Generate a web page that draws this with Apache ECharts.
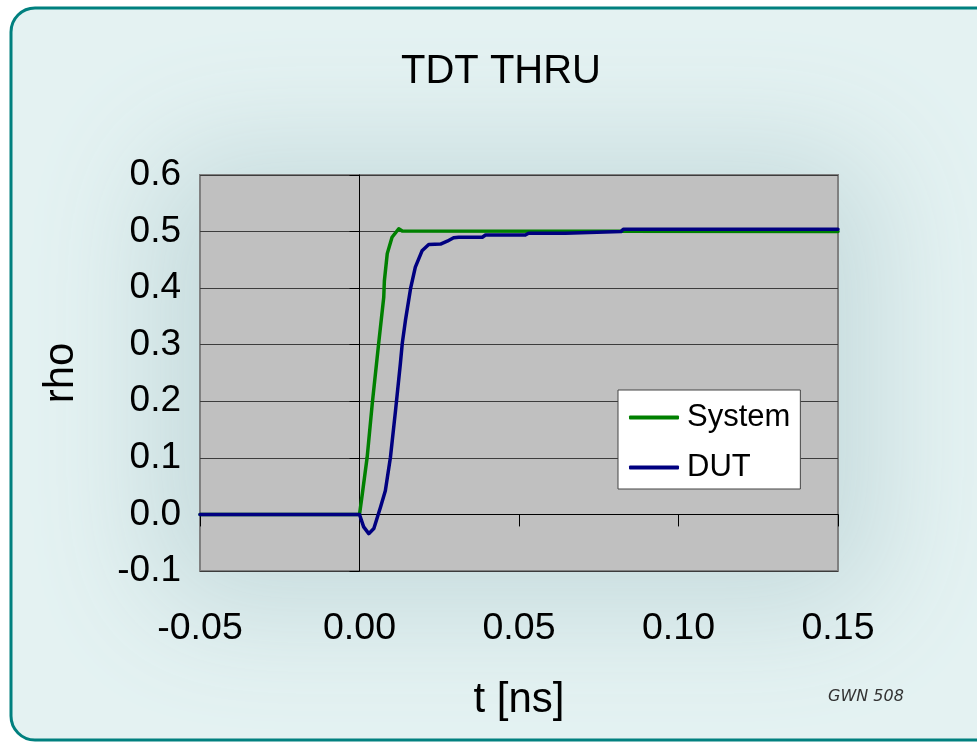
<!DOCTYPE html>
<html>
<head>
<meta charset="utf-8">
<script src="https://cdn.jsdelivr.net/npm/echarts@6/dist/echarts.min.js"></script>
<style>html,body{margin:0;padding:0;background:#fff;}#c{width:977px;height:742px;}</style>
</head>
<body>
<div id="c"></div>
<script>
// Data
const chartTitle = 'TDT THRU';
const xName = 't [ns]';
const yName = 'rho';
const seriesNames = ['System', 'DUT'];
const xTicks = [-0.05, 0.00, 0.05, 0.10, 0.15];
const yTicks = [-0.1, 0.0, 0.1, 0.2, 0.3, 0.4, 0.5, 0.6];
const sysT   = [-0.05, 0, 0.0009, 0.0024, 0.0040, 0.0060, 0.0076, 0.0078, 0.0087, 0.0102, 0.0123, 0.0134, 0.15];
const sysRho = [0, 0, 0.037, 0.101, 0.196, 0.302, 0.384, 0.413, 0.461, 0.490, 0.505, 0.501, 0.500];
const dutT   = [-0.05, 0, 0.0013, 0.0029, 0.0045, 0.0066, 0.0081, 0.0097, 0.0113, 0.0128, 0.0134, 0.0144, 0.0160, 0.0175, 0.0196, 0.0217, 0.0254, 0.0275, 0.0295, 0.0311, 0.0385, 0.0395, 0.052, 0.053, 0.0645, 0.065, 0.082, 0.0827, 0.15];
const dutRho = [0, 0, -0.022, -0.034, -0.025, 0.013, 0.042, 0.101, 0.184, 0.266, 0.302, 0.343, 0.399, 0.437, 0.466, 0.477, 0.478, 0.483, 0.489, 0.490, 0.490, 0.494, 0.494, 0.497, 0.497, 0.500, 0.500, 0.504, 0.504];
const stamp = 'GWN 508';

const FONT = '"Liberation Sans", Arial, sans-serif';
const zip = (a, b) => a.map((v, i) => [v, b[i]]);
const xMin = xTicks[0], xMax = xTicks[xTicks.length - 1];
const yMin = yTicks[0], yMax = yTicks[yTicks.length - 1];

const chart = echarts.init(document.getElementById('c'), null, {renderer: 'canvas'});
chart.setOption({
  animation: false,
  backgroundColor: '#ffffff',
  title: {
    text: chartTitle, left: 496, top: 47, textAlign: 'center',
    textStyle: {fontFamily: FONT, fontSize: 40, fontWeight: 'normal', color: '#000'}
  },
  graphic: [
    {type: 'rect', z: -20, silent: true,
     shape: {x: 11, y: 8, width: 1000, height: 732, r: 24},
     style: {fill: '#e4f2f2', stroke: '#00807f', lineWidth: 3}},
    {type: 'rect', z: -19, silent: true,
     shape: {x: 150 - 3000, y: 150, width: 730, height: 460, r: 60},
     style: {fill: '#c6dbdd', shadowBlur: 120, shadowColor: '#c6dbdd', shadowOffsetX: 3000, shadowOffsetY: 0}},
    {type: 'text', z: 100, left: 828, top: 689, silent: true,
     style: {text: stamp, font: 'italic 16px "DejaVu Sans", sans-serif', fill: '#333'}}
  ],
  grid: {
    left: 200, top: 175, right: 139, bottom: 171,
    show: true, backgroundColor: '#c0c0c0', borderColor: '#808080', borderWidth: 2
  },
  legend: {
    data: seriesNames, orient: 'vertical', left: 618, top: 390,
    padding: [12, 10, 6, 11], itemGap: 19, itemWidth: 50, itemHeight: 4, icon: 'roundRect',
    backgroundColor: '#ffffff', borderColor: '#444', borderWidth: 1, borderRadius: 0,
    textStyle: {fontFamily: FONT, fontSize: 31, color: '#000', padding: [0, 0, 0, 3]}
  },
  xAxis: [
    {type: 'value', min: xMin, max: xMax, interval: 0.05, position: 'bottom',
     axisLine: {show: false}, axisTick: {show: false}, splitLine: {show: false},
     axisLabel: {margin: 39, fontFamily: FONT, fontSize: 37.5, color: '#000',
                 formatter: v => v.toFixed(2)},
     name: xName, nameLocation: 'middle', nameGap: 108,
     nameTextStyle: {fontFamily: FONT, fontSize: 42, color: '#000'}},
    {type: 'value', min: xMin, max: xMax, interval: 0.05, position: 'top',
     axisLine: {show: true, onZero: true, onZeroAxisIndex: 0, lineStyle: {color: '#000', width: 1}},
     axisTick: {show: true, inside: true, length: 12, lineStyle: {color: '#000', width: 1}},
     axisLabel: {show: false}, splitLine: {show: false}}
  ],
  yAxis: [
    {type: 'value', min: yMin, max: yMax, interval: 0.1, position: 'left',
     axisLine: {show: false}, axisTick: {show: false},
     splitLine: {show: true, lineStyle: {color: '#3c3c3c', width: 1}},
     axisLabel: {margin: 19, fontFamily: FONT, fontSize: 37, color: '#000',
                 formatter: v => v.toFixed(1)},
     name: yName, nameLocation: 'middle', nameGap: 118, nameRotate: 90,
     nameTextStyle: {fontFamily: FONT, fontSize: 42, color: '#000'}},
    {type: 'value', min: yMin, max: yMax, interval: 0.1, position: 'right',
     axisLine: {show: true, onZero: true, onZeroAxisIndex: 0, lineStyle: {color: '#000', width: 1}},
     axisTick: {show: true, inside: true, length: 10, lineStyle: {color: '#000', width: 1}},
     axisLabel: {show: false}, splitLine: {show: false}}
  ],
  series: [
    {name: seriesNames[0], type: 'line', xAxisIndex: 0, yAxisIndex: 0,
     data: zip(sysT, sysRho), showSymbol: false, symbol: 'none', smooth: false,
     lineStyle: {color: '#008000', width: 3.5, join: 'round', cap: 'round'},
     itemStyle: {color: '#008000'}},
    {name: seriesNames[1], type: 'line', xAxisIndex: 0, yAxisIndex: 0,
     data: zip(dutT, dutRho), showSymbol: false, symbol: 'none', smooth: false,
     lineStyle: {color: '#000080', width: 3.5, join: 'round', cap: 'round'},
     itemStyle: {color: '#000080'}}
  ]
});
</script>
</body>
</html>
